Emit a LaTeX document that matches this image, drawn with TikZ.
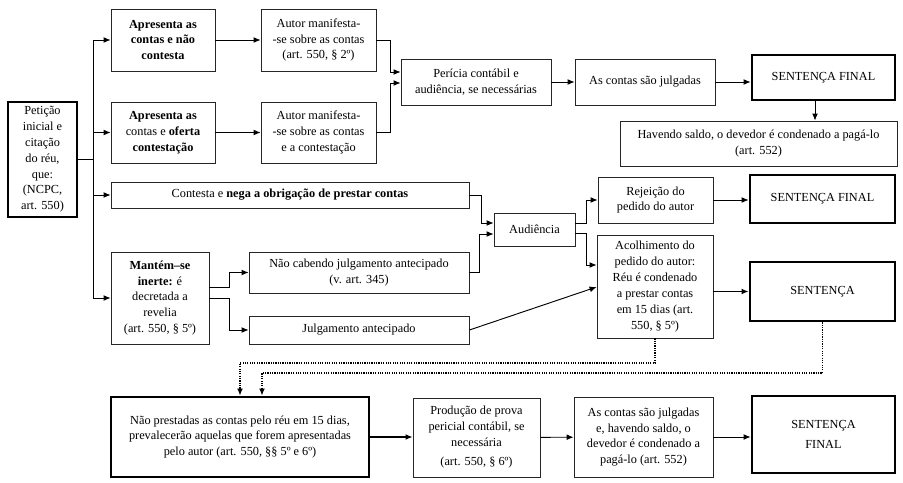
\documentclass[tikz,border=0pt]{standalone}
\usepackage{fontspec}
\setmainfont{Liberation Serif}
\usetikzlibrary{arrows.meta}

\begin{document}
\begin{tikzpicture}[x=0.03cm,y=-0.03cm,
  caixa/.style 2 args={draw=black!85,line width=0.7pt,align=center,inner sep=2pt,
    minimum width=#1*0.03cm,minimum height=#2*0.03cm,font=\fontsize{10.5}{13.5}\selectfont},
  forte/.style={draw=black,line width=2.4pt},
  linha/.style={line width=0.8pt},
  seta/.style={linha,-{Latex[length=6pt,width=5pt]}},
  pont/.style={seta,line width=1.1pt,dash pattern=on 1pt off 1pt}]

\useasboundingbox (0,0) rectangle (903,483);

\node[caixa={69}{115},forte] (peticao) at (42.5,159.5) {Petição\\inicial e\\citação\\do réu,\\que:\\(NCPC,\\art. 550)};

\node[caixa={104}{62}] (contasA) at (163,40) {\textbf{Apresenta as}\\\textbf{contas e não}\\\textbf{contesta}};
\node[caixa={104}{61}] (contasB) at (163,132.5) {\textbf{Apresenta as}\\contas e \textbf{oferta}\\\textbf{contestação}};
\node[caixa={115}{62}] (manifA) at (318.5,40) {Autor manifesta-\\-se sobre as contas\\(art. 550, § 2º)};
\node[caixa={115}{61}] (manifB) at (318.5,132.5) {Autor manifesta-\\-se sobre as contas\\e a contestação};
\node[caixa={150}{46}] (pericia) at (476,82) {Perícia contábil e\\audiência, se necessárias};
\node[caixa={140}{46}] (julgadas) at (645,82) {As contas são julgadas};
\node[caixa={143}{45},forte] (sfinalA) at (823.5,77.5) {SENTENÇA FINAL};
\node[caixa={277}{45}] (saldo) at (758.5,143.5) {Havendo saldo, o devedor é condenado a pagá-lo\\(art. 552)};

\node[caixa={358}{26}] (contesta) at (290,195) {Contesta e \textbf{nega a obrigação de prestar contas}};
\node[caixa={81}{33}] (audiencia) at (534.5,229.5) {Audiência};
\node[caixa={115}{46}] (rejeicao) at (655.5,200) {Rejeição do\\pedido do autor};
\node[caixa={145}{48},forte] (sfinalB) at (822.5,199) {SENTENÇA FINAL};
\node[caixa={116}{103}] (acolhe) at (655,286.5) {Acolhimento do\\pedido do autor:\\Réu é condenado\\a prestar contas\\em 15 dias (art.\\550, § 5º)};
\node[caixa={145}{59},forte] (sentenca) at (822.5,291.5) {SENTENÇA};

\node[caixa={98}{92}] (mantem) at (160,298) {\textbf{Mantém–se}\\\textbf{inerte:} é\\decretada a\\revelia\\(art. 550, § 5º)};
\node[caixa={220}{41}] (naocabe) at (359,272.5) {Não cabendo julgamento antecipado\\(v. art. 345)};
\node[caixa={220}{28}] (antecip) at (359,330) {Julgamento antecipado};

\node[caixa={258}{80},forte] (naopresta) at (240,437) {Não prestadas as contas pelo réu em 15 dias,\\prevalecerão aquelas que forem apresentadas\\pelo autor (art. 550, §§ 5º e 6º)};
\node[caixa={127}{79}] (producao) at (476.5,437.5) {Produção de prova\\pericial contábil, se\\necessária\\[3pt](art. 550, § 6º)};
\node[caixa={139}{80}] (julgsaldo) at (643.5,437) {As contas são julgadas\\e, havendo saldo, o\\devedor é condenado a\\pagá-lo (art. 552)};
\node[caixa={143}{77},forte] (sfinalC) at (823.5,434.5) {SENTENÇA\\[4pt]FINAL};

% tronco de saida da peticao
\coordinate (tronco) at (93,0);
\draw[linha] (peticao.east) -- (peticao.east -| tronco);
\draw[linha] (tronco |- contasA.west) -- (tronco |- mantem.west);
\foreach \n in {contasA,contasB,contesta,mantem}
  \draw[seta] (tronco |- \n.west) -- (\n.west);

\draw[seta] (contasA) -- (manifA);
\draw[seta] (contasB) -- (manifB);
\coordinate (juntaA) at (390,72);
\coordinate (juntaB) at (390,83);
\draw[seta] (manifA.east) -| (juntaA) -- (juntaA -| pericia.west);
\draw[seta] (manifB.east) -| (juntaB) -- (juntaB -| pericia.west);
\draw[seta] (pericia) -- (julgadas);
\draw[seta] (julgadas.east) -- (julgadas.east -| sfinalA.west);
\coordinate (desce) at (815,0);
\draw[seta] (desce |- sfinalA.south) -- (desce |- saldo.north);

% audiencia
\coordinate (juntaC) at (481,223);
\coordinate (juntaD) at (479,234);
\draw[seta] (contesta.east) -| (juntaC) -- (juntaC -| audiencia.west);
\draw[seta] (naocabe.east) -| (juntaD) -- (juntaD -| audiencia.west);
\coordinate (saiA) at (586,223);
\coordinate (saiB) at (586,233);
\coordinate (nivelA) at (0,265);
\coordinate (nivelB) at (0,287);
\draw[seta] (saiA -| audiencia.east) -- (saiA) |- (rejeicao.west);
\draw[seta] (saiB -| audiencia.east) -- (saiB) |- (acolhe.west |- nivelA);
\draw[seta] (rejeicao.east) -- (rejeicao.east -| sfinalB.west);
\draw[seta,line width=1.1pt] (acolhe.east |- sentenca.west) -- (sentenca.west);

% revelia
\coordinate (juntaE) at (229,287);
\coordinate (juntaF) at (229,298);
\draw[seta] (juntaE -| mantem.east) -- (juntaE) |- (naocabe.west);
\draw[seta] (juntaF -| mantem.east) -- (juntaF) |- (antecip.west);
\draw[seta] (antecip.east) -- (acolhe.west |- nivelB);

% contas nao prestadas
\coordinate (voltaA) at (240,363);
\coordinate (voltaB) at (262,373);
\draw[pont] (acolhe.south) |- (voltaA) -- (naopresta.north);
\draw[pont] (sentenca.south) |- (voltaB) -- (voltaB |- naopresta.north);

\draw[seta,line width=1.1pt] (naopresta.east) -- (naopresta.east -| producao.west);
\draw[seta] (producao) -- (julgsaldo);
\draw[seta] (julgsaldo.east) -- (julgsaldo.east -| sfinalC.west);

\end{tikzpicture}
\end{document}
